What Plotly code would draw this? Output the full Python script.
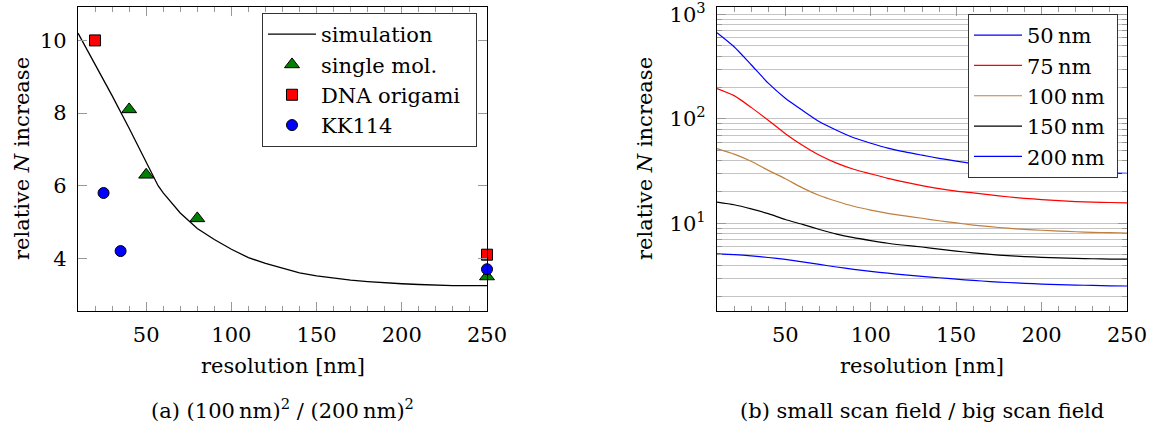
import plotly.graph_objects as go

# ---------------- data: panel (a) ----------------
sim_x = [10, 20, 30, 40, 50, 57, 60, 70, 80, 90, 100, 110, 120, 130, 140, 150,
         160, 170, 180, 190, 200, 210, 220, 230, 240, 250]
sim_y = [10.2, 9.35, 8.48, 7.58, 6.64, 6.0, 5.8, 5.25, 4.82, 4.52, 4.25, 4.02,
         3.86, 3.72, 3.6, 3.52, 3.45, 3.4, 3.36, 3.32, 3.3, 3.28, 3.26, 3.25,
         3.25, 3.25]
single_x = [40, 50, 80, 250]
single_y = [8.1, 6.3, 5.1, 3.5]
dna_x = [20, 250]
dna_y = [10.0, 4.1]
kk_x = [25, 35, 250]
kk_y = [5.8, 4.2, 3.7]

# ---------------- data: panel (b) ----------------
res_x = [10, 20, 30, 40, 50, 60, 70, 80, 90, 100, 110, 120, 130, 140, 150,
         160, 170, 180, 190, 200, 210, 220, 230, 240, 250]
n50 = [667, 490, 330, 220, 158, 121, 94, 78, 66, 58.5, 52.5, 48.3, 45.0,
       42.0, 39.5, 37.2, 35.4, 34.0, 33.0, 32.2, 31.5, 31.0, 30.6, 30.3, 30.1]
n75 = [195, 167, 129, 97, 72.3, 56, 44.9, 37.8, 33, 29.8, 27.0, 24.8, 23.0,
       21.5, 20.4, 19.6, 18.8, 18.0, 17.4, 16.9, 16.5, 16.2, 16.0, 15.85, 15.75]
n100 = [51.9, 46.0, 39.3, 32.2, 26.8, 21.9, 18.5, 16.3, 14.6, 13.4, 12.5, 11.8,
        11.2, 10.6, 10.1, 9.65, 9.3, 9.0, 8.78, 8.6, 8.45, 8.32, 8.22, 8.15, 8.1]
n150 = [16.0, 15.1, 13.8, 12.4, 10.9, 9.8, 8.75, 7.9, 7.3, 6.85, 6.46, 6.18,
        5.95, 5.68, 5.44, 5.22, 5.05, 4.92, 4.82, 4.74, 4.68, 4.63, 4.59, 4.56, 4.55]
n200 = [5.11, 5.03, 4.9, 4.72, 4.52, 4.28, 4.05, 3.83, 3.64, 3.48, 3.34, 3.22,
        3.12, 3.02, 2.93, 2.85, 2.78, 2.72, 2.67, 2.63, 2.6, 2.57, 2.55, 2.53, 2.52]
curve_names = ["50\u2009nm", "75\u2009nm", "100\u2009nm\u00a0", "150\u2009nm\u00a0", "200\u2009nm\u00a0"]
curve_colors = ["#0000FF", "#FF0000", "#BF8040", "#000000", "#0000FF"]

xticks = [50, 100, 150, 200, 250]
yticks_a = [4, 6, 8, 10]
yticks_b = [10, 100, 1000]
yticktext_b = ["10<sup>1</sup>", "10<sup>2</sup>", "10<sup>3</sup>"]
minor_b = [m * d for d in (1, 10, 100) for m in range(2, 10)]

FONT = "DejaVu Serif"
FS = 21
W, H = 1155, 433

fig = go.Figure()

fig.add_trace(go.Scatter(x=sim_x, y=sim_y, mode="lines", name="simulation",
                         line=dict(color="black", width=1.3),
                         xaxis="x", yaxis="y", legend="legend",
                         legendgroup="a1"))
fig.add_trace(go.Scatter(x=single_x, y=single_y, mode="markers", name="single mol.",
                         marker=dict(symbol="triangle-up", size=13, color="#008000",
                                     line=dict(color="black", width=1)),
                         cliponaxis=False, xaxis="x", yaxis="y", legend="legend",
                         legendgroup="a2"))
fig.add_trace(go.Scatter(x=dna_x, y=dna_y, mode="markers",
                         name="DNA origami\u00a0\u2009",
                         marker=dict(symbol="square", size=11, color="#FF0000",
                                     line=dict(color="black", width=1)),
                         cliponaxis=False, xaxis="x", yaxis="y", legend="legend",
                         legendgroup="a3"))
fig.add_trace(go.Scatter(x=kk_x, y=kk_y, mode="markers", name="KK114",
                         marker=dict(symbol="circle", size=11, color="#0000FF",
                                     line=dict(color="black", width=1)),
                         cliponaxis=False, xaxis="x", yaxis="y", legend="legend",
                         legendgroup="a4"))

for i, (ys, nm, col) in enumerate(zip([n50, n75, n100, n150, n200], curve_names, curve_colors)):
    fig.add_trace(go.Scatter(x=res_x, y=ys, mode="lines", name=nm,
                             line=dict(color=col, width=1.2, shape="spline", smoothing=0.6),
                             xaxis="x2", yaxis="y2", legend="legend2",
                             legendgroup="b%d" % i))

# geometry (pixels -> paper)
ax_l, ax_r = 78, 487
bx_l, bx_r = 717, 1127
top, bot = 7, 311

def px(v):
    return v / W

def py(v):
    return (H - v) / H

tickfont = dict(family=FONT, size=FS, color="black")
common_x = dict(range=[10, 250], tickmode="array", tickvals=xticks, ticks="inside",
                ticklen=9, tickcolor="#999999", showline=True, linecolor="black",
                linewidth=1.2, mirror="ticks", showgrid=False, zeroline=False,
                tickfont=tickfont, ticklabelstandoff=5, automargin=False,
                ticklabeloverflow="allow",
                minor=dict(ticks="inside", ticklen=5, tickcolor="#999999",
                           tick0=0, dtick=10, showgrid=False))

fig.update_layout(
    width=W, height=H,
    margin=dict(l=0, r=0, t=0, b=0, autoexpand=False),
    paper_bgcolor="white", plot_bgcolor="white",
    font=dict(family=FONT, size=FS, color="black"),
    xaxis=dict(domain=[px(ax_l), px(ax_r)], anchor="y", **common_x),
    yaxis=dict(domain=[py(bot), py(top)], anchor="x", range=[2.55, 10.92],
               tickmode="array", tickvals=yticks_a, ticks="inside", ticklen=9,
               tickcolor="#999999", showline=True, linecolor="black", linewidth=1.2,
               mirror="ticks", showgrid=False, zeroline=False, tickfont=tickfont,
               ticklabelstandoff=6, automargin=False, ticklabeloverflow="allow"),
    xaxis2=dict(domain=[px(bx_l), px(bx_r)], anchor="y2", **common_x),
    yaxis2=dict(domain=[py(bot), py(top)], anchor="x2", type="log",
                range=[0.162, 3.071], tickmode="array", tickvals=yticks_b,
                ticktext=yticktext_b, ticks="inside", ticklen=9, tickcolor="#999999",
                showline=True, linecolor="black", linewidth=1.2, mirror="ticks",
                showgrid=True, gridcolor="#c4c4c4", gridwidth=1, zeroline=False,
                tickfont=tickfont, ticklabelstandoff=6, automargin=False,
                ticklabeloverflow="allow",
                minor=dict(tickmode="array", tickvals=minor_b, ticks="inside",
                           ticklen=5, tickcolor="#999999", showgrid=True,
                           gridcolor="#c4c4c4", gridwidth=1)),
    legend=dict(x=px(262), y=py(13), xanchor="left", yanchor="top",
                bgcolor="white", bordercolor="#333333", borderwidth=1,
                font=dict(family=FONT, size=FS), traceorder="grouped",
                tracegroupgap=0, itemwidth=48),
    legend2=dict(x=px(968), y=py(14), xanchor="left", yanchor="top",
                 bgcolor="white", bordercolor="#333333", borderwidth=1,
                 font=dict(family=FONT, size=FS), traceorder="grouped",
                 tracegroupgap=0, itemwidth=48),
    showlegend=True,
)

annots = [
    dict(text="relative <i>N</i> increase", x=px(22), y=py((top + bot) / 2),
         textangle=-90),
    dict(text="relative <i>N</i> increase", x=px(645), y=py((top + bot) / 2),
         textangle=-90),
    dict(text="resolution [nm]", x=px((ax_l + ax_r) / 2), y=py(366)),
    dict(text="resolution [nm]", x=px((bx_l + bx_r) / 2), y=py(366)),
    dict(text="(a) (100\u2009nm)<sup>2</sup> / (200\u2009nm)<sup>2</sup>",
         x=px((ax_l + ax_r) / 2), y=py(409)),
    dict(text="(b) small scan field / big scan field",
         x=px((bx_l + bx_r) / 2), y=py(411)),
]
for a in annots:
    fig.add_annotation(xref="paper", yref="paper", showarrow=False,
                       xanchor="center", yanchor="middle",
                       font=dict(family=FONT, size=FS, color="black"), **a)

fig.write_html("out.html")
